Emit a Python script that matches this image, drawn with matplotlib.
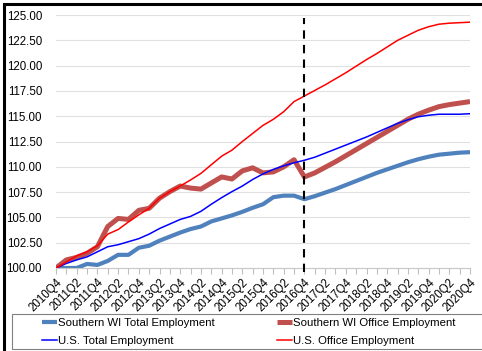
import matplotlib.pyplot as plt
import matplotlib.patches as patches

plt.rcParams['font.family'] = ['Liberation Sans', 'DejaVu Sans']

# quarters 2010Q4 .. 2020Q4
quarters = ['2010Q4'] + ['%dQ%d' % (y, q) for y in range(2011, 2021) for q in range(1, 5)]

swi_total = [100.0, 100.0, 100.0, 100.4, 100.3, 100.7, 101.3, 101.3, 102.0, 102.2,
             102.7, 103.1, 103.5, 103.85, 104.1, 104.6, 104.9, 105.2, 105.55, 105.95,
             106.3, 107.0, 107.15, 107.15, 106.8, 107.1, 107.45, 107.8, 108.2, 108.6,
             109.0, 109.4, 109.75, 110.1, 110.45, 110.75, 111.0, 111.2, 111.3, 111.4,
             111.45]
swi_office = [100.0, 100.8, 101.05, 101.45, 102.1, 104.1, 104.9, 104.8, 105.7, 105.9,
              106.9, 107.55, 108.1, 107.9, 107.8, 108.4, 109.0, 108.8, 109.6, 109.9,
              109.4, 109.5, 110.0, 110.7, 109.0, 109.4, 109.95, 110.5, 111.1, 111.7,
              112.3, 112.9, 113.5, 114.1, 114.7, 115.2, 115.6, 115.95, 116.15, 116.3,
              116.45]
us_total = [100.0, 100.45, 100.8, 101.1, 101.6, 102.1, 102.3, 102.6, 102.9, 103.35,
            103.9, 104.35, 104.8, 105.1, 105.6, 106.3, 106.95, 107.55, 108.1, 108.75,
            109.3, 109.75, 110.1, 110.4, 110.65, 110.95, 111.35, 111.75, 112.15, 112.55,
            112.95, 113.4, 113.85, 114.3, 114.65, 114.95, 115.1, 115.2, 115.2, 115.2,
            115.25]
us_office = [100.0, 100.6, 101.2, 101.6, 102.2, 103.35, 103.8, 104.55, 105.25, 105.9,
             106.9, 107.55, 108.1, 108.7, 109.35, 110.2, 111.05, 111.65, 112.5, 113.3,
             114.1, 114.7, 115.45, 116.45, 117.0, 117.55, 118.1, 118.7, 119.3, 119.95,
             120.6, 121.2, 121.85, 122.5, 123.0, 123.5, 123.85, 124.1, 124.2, 124.25,
             124.3]
forecast_start = '2016Q4'

x = list(range(len(quarters)))

fig = plt.figure(figsize=(4.82, 3.51), dpi=100)
ax = fig.add_axes([0.1162, 0.2365, 0.8589, 0.7205])

l1, = ax.plot(x, swi_total, color='#4F81BD', lw=3.0, solid_capstyle='butt',
              label='Southern WI Total Employment')
l2, = ax.plot(x, swi_office, color='#C0504D', lw=3.6, solid_capstyle='butt',
              label='Southern WI Office Employment')
l3, = ax.plot(x, us_total, color='#0000FF', lw=1.1, label='U.S. Total Employment')
l4, = ax.plot(x, us_office, color='#FF0000', lw=1.1, label='U.S. Office Employment')

ax.axvline(quarters.index(forecast_start), ymin=-0.015, ymax=0.988, color='black',
           lw=1.5, ls=(0, (4, 3)), clip_on=False, zorder=5)

ax.set_xlim(0, len(quarters) - 1)
ax.set_ylim(100, 125)
ax.set_yticks([100 + 2.5 * i for i in range(11)])
ax.set_yticklabels(['%.2f' % (100 + 2.5 * i) for i in range(11)], fontsize=8.3)
ax.set_xticks(x)
ax.set_xticklabels([q if i % 2 == 0 else '' for i, q in enumerate(quarters)],
                   rotation=45, ha='right', rotation_mode='anchor', fontsize=8.3)
ax.tick_params(axis='y', length=0, pad=10)
ax.tick_params(axis='x', length=4, color='#bfbfbf', pad=2)
ax.grid(axis='y', color='#e0e0e0', lw=0.8)
ax.set_axisbelow(True)
for s in ['top', 'right', 'left']:
    ax.spines[s].set_visible(False)
ax.spines['bottom'].set_color('#c8c8c8')

handles = [l1, l3, l2, l4]
leg = fig.legend(handles, [h.get_label() for h in handles],
                 ncol=2, loc='upper left', fontsize=8.2, frameon=False,
                 handlelength=1.3, handletextpad=0.1, borderpad=0.0,
                 labelspacing=0.75, columnspacing=5.5, borderaxespad=0)
leg.set_bbox_to_anchor((42 / 482, 1 - 317.5 / 351), transform=fig.transFigure)

# legend box
fig.patches.append(patches.Rectangle((12 / 482, 1 - 349 / 351), 1.0, 35 / 351,
                                     transform=fig.transFigure, fill=False,
                                     edgecolor='#808080', lw=0.8))

# outer frame (top and left visible)
fig.patches.append(patches.Rectangle((0.008, -0.05), 1.1, 1.04, transform=fig.transFigure,
                                     fill=False, edgecolor='black', lw=2.2))

fig.savefig('out.png', dpi=100)
